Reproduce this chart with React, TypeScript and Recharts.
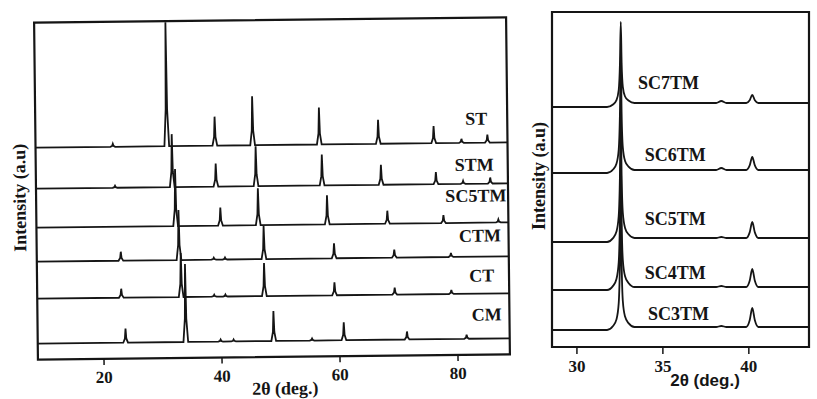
import React from 'react';
import { LineChart, Line, XAxis, YAxis, ReferenceDot, ReferenceArea } from 'recharts';

// Left panel: full 2θ scans, peaks read as [2θ, height above own baseline]
const wideSamples = ['ST', 'STM', 'SC5TM', 'CTM', 'CT', 'CM'];
const wideOffsets = [212, 171, 132, 98, 61, 16];
const stPeaks = [[21.9, 3], [31.05, 124], [39.2, 29], [45.6, 49], [56.9, 37], [66.9, 24], [76.3, 17], [81.0, 4], [85.4, 8]];
const stmPeaks = [[22.2, 2], [31.9, 53], [39.3, 23], [46.1, 40], [57.3, 31], [67.3, 20], [76.6, 12], [81.2, 3], [85.8, 6]];
const sc5tmPeaks = [[32.4, 57], [40.0, 18], [46.4, 37], [58.1, 29], [68.3, 13], [77.8, 8], [87.1, 3]];
const ctmPeaks = [[23.05, 9], [32.9, 50], [38.8, 2], [40.7, 2], [47.3, 33], [59.2, 15], [69.4, 8], [79.0, 4]];
const ctPeaks = [[23.05, 9], [33.2, 44], [38.8, 2], [40.7, 2], [47.3, 33], [59.2, 13], [69.4, 7], [79.0, 4]];
const cmPeaks = [[23.7, 14], [33.9, 78], [39.8, 2], [42.0, 2], [48.8, 30], [55.3, 2], [60.7, 18], [71.4, 8], [81.5, 4]];
const widePeaks = [stPeaks, stmPeaks, sc5tmPeaks, ctmPeaks, ctPeaks, cmPeaks];
const wideTicks = [20, 40, 60, 80];
const wideLabelAt = [[85.4, 236], [86.4, 190], [88.5, 159], [87.5, 119], [86.3, 79], [87.5, 40]];
const sharpProfile = [[-0.4, 0], [-0.12, 0.3], [0, 1], [0.12, 0.3], [0.4, 0]];

// Right panel: 28.5–43.5° detail
const zoomSamples = ['SC7TM', 'SC6TM', 'SC5TM', 'SC4TM', 'SC3TM'];
const zoomBaseLeft = [240, 174, 105, 57, 17];
const zoomBaseRight = [244, 177, 109, 60, 20];
const zoomMainPos = 32.55;
const zoomMainTop = [325, 290, 235, 195, 150];
const zoomBumpPos = 38.4;
const zoomBumpHeight = [2, 2, 1, 1, 1];
const zoomSidePos = 40.2;
const zoomSideHeight = [8, 13, 16, 18, 19];
const zoomTicks = [30, 35, 40];
const zoomLabelAt = [[33.55, 264], [33.95, 192], [33.95, 128], [33.95, 74], [34.13, 33]];
const broadProfile = [[-0.8, 0], [-0.45, 0.03], [-0.25, 0.08], [-0.12, 0.2], [-0.05, 0.5], [0, 1], [0.05, 0.5], [0.12, 0.2], [0.25, 0.08], [0.45, 0.03], [0.8, 0]];
const sideProfile = [[-0.35, 0], [-0.15, 0.35], [0, 1], [0.15, 0.35], [0.35, 0]];
const bumpProfile = [[-0.3, 0], [0, 1], [0.3, 0]];

const WIDE_X: [number, number] = [8.8, 88.8];
const ZOOM_X: [number, number] = [28.55, 43.5];

const serif = "'Liberation Serif', 'Times New Roman', serif";
const ink = '#151515';

function buildWide(peaks: number[][], offset: number) {
  const pts = [{ x: WIDE_X[0], y: offset }];
  peaks.forEach(([pos, h]) => sharpProfile.forEach(([dx, f]) => pts.push({ x: pos + dx, y: offset + f * h })));
  pts.push({ x: WIDE_X[1], y: offset });
  return pts;
}

function buildZoom(i: number) {
  const L = zoomBaseLeft[i];
  const R = zoomBaseRight[i];
  const top = zoomMainTop[i];
  const pts = [{ x: ZOOM_X[0], y: L }];
  broadProfile.forEach(([dx, f]) => {
    const base = dx <= 0 ? L : R;
    pts.push({ x: zoomMainPos + dx, y: base + f * (top - base) });
  });
  bumpProfile.forEach(([dx, f]) => pts.push({ x: zoomBumpPos + dx, y: R + f * zoomBumpHeight[i] }));
  sideProfile.forEach(([dx, f]) => pts.push({ x: zoomSidePos + dx, y: R + f * zoomSideHeight[i] }));
  pts.push({ x: ZOOM_X[1], y: R });
  return pts;
}

const tickStyle = { fontFamily: serif, fontWeight: 700, fontSize: 17, fill: ink };

const labelShape = (text: string, anchor: 'start' | 'end') => (p: any) => (
  <text x={p.cx} y={p.cy} textAnchor={anchor} dominantBaseline="central"
    style={{ fontFamily: serif, fontWeight: 700, fontSize: 18, fill: ink }}>{text}</text>
);

const titleStyle: React.CSSProperties = {
  position: 'absolute', whiteSpace: 'nowrap', fontFamily: serif, fontWeight: 700, fontSize: 18, color: ink,
};

export default function App() {
  return (
    <div style={{ position: 'absolute', left: 0, top: 0, width: 817, height: 399, background: '#fff', overflow: 'hidden' }}>
      <div style={{ position: 'absolute', left: 0, top: 0, width: 520, height: 399, transform: 'rotate(-0.65deg)', transformOrigin: '272px 188px' }}>
        <LineChart width={520} height={399} margin={{ top: 20, right: 12, bottom: 12, left: 36 }}>
          <XAxis dataKey="x" type="number" domain={WIDE_X} allowDataOverflow ticks={wideTicks} height={30}
            axisLine={false} tickSize={6} tickMargin={6} tickLine={{ stroke: ink, strokeWidth: 1.5 }} tick={tickStyle} />
          <YAxis hide type="number" domain={[0, 337]} allowDataOverflow />
          <ReferenceArea x1={WIDE_X[0]} x2={WIDE_X[1]} y1={0} y2={337} fill="none" stroke={ink} strokeWidth={2.2} ifOverflow="visible" />
          {widePeaks.map((peaks, i) => (
            <Line key={wideSamples[i]} data={buildWide(peaks, wideOffsets[i])} dataKey="y" type="linear"
              stroke={ink} strokeWidth={1.8} dot={false} isAnimationActive={false} />
          ))}
          {wideSamples.map((s, i) => (
            <ReferenceDot key={s} x={wideLabelAt[i][0]} y={wideLabelAt[i][1]} r={0} shape={labelShape(s, 'end')} />
          ))}
        </LineChart>
        <div style={{ ...titleStyle, left: 20, top: 195, transform: 'translate(-50%, -50%) rotate(-90deg)' }}>Intensity (a.u)</div>
        <div style={{ ...titleStyle, left: 283, top: 389, transform: 'translate(-50%, -50%)' }}>2θ (deg.)</div>
      </div>

      <div style={{ position: 'absolute', left: 530, top: 0, width: 287, height: 399 }}>
        <LineChart width={287} height={399} margin={{ top: 12, right: 8, bottom: 22, left: 22 }}>
          <XAxis dataKey="x" type="number" domain={ZOOM_X} allowDataOverflow ticks={zoomTicks} height={30}
            axisLine={false} tickSize={7} tickMargin={6} tickLine={{ stroke: ink, strokeWidth: 1.5 }} tick={tickStyle} />
          <YAxis hide type="number" domain={[0, 335]} allowDataOverflow />
          <ReferenceArea x1={ZOOM_X[0]} x2={ZOOM_X[1]} y1={0} y2={335} fill="none" stroke={ink} strokeWidth={2.2} ifOverflow="visible" />
          {zoomSamples.map((s, i) => (
            <Line key={s} data={buildZoom(i)} dataKey="y" type="monotone"
              stroke={ink} strokeWidth={1.8} dot={false} isAnimationActive={false} />
          ))}
          {zoomSamples.map((s, i) => (
            <ReferenceDot key={s + '-lbl'} x={zoomLabelAt[i][0]} y={zoomLabelAt[i][1]} r={0} shape={labelShape(s, 'start')} />
          ))}
        </LineChart>
        <div style={{ ...titleStyle, left: 9, top: 176, transform: 'translate(-50%, -50%) rotate(-90deg)' }}>Intensity (a.u)</div>
        <div style={{ ...titleStyle, left: 175, top: 381, fontFamily: "'Liberation Sans', Arial, sans-serif", fontSize: 17, transform: 'translate(-50%, -50%)' }}>2θ (deg.)</div>
      </div>
    </div>
  );
}
